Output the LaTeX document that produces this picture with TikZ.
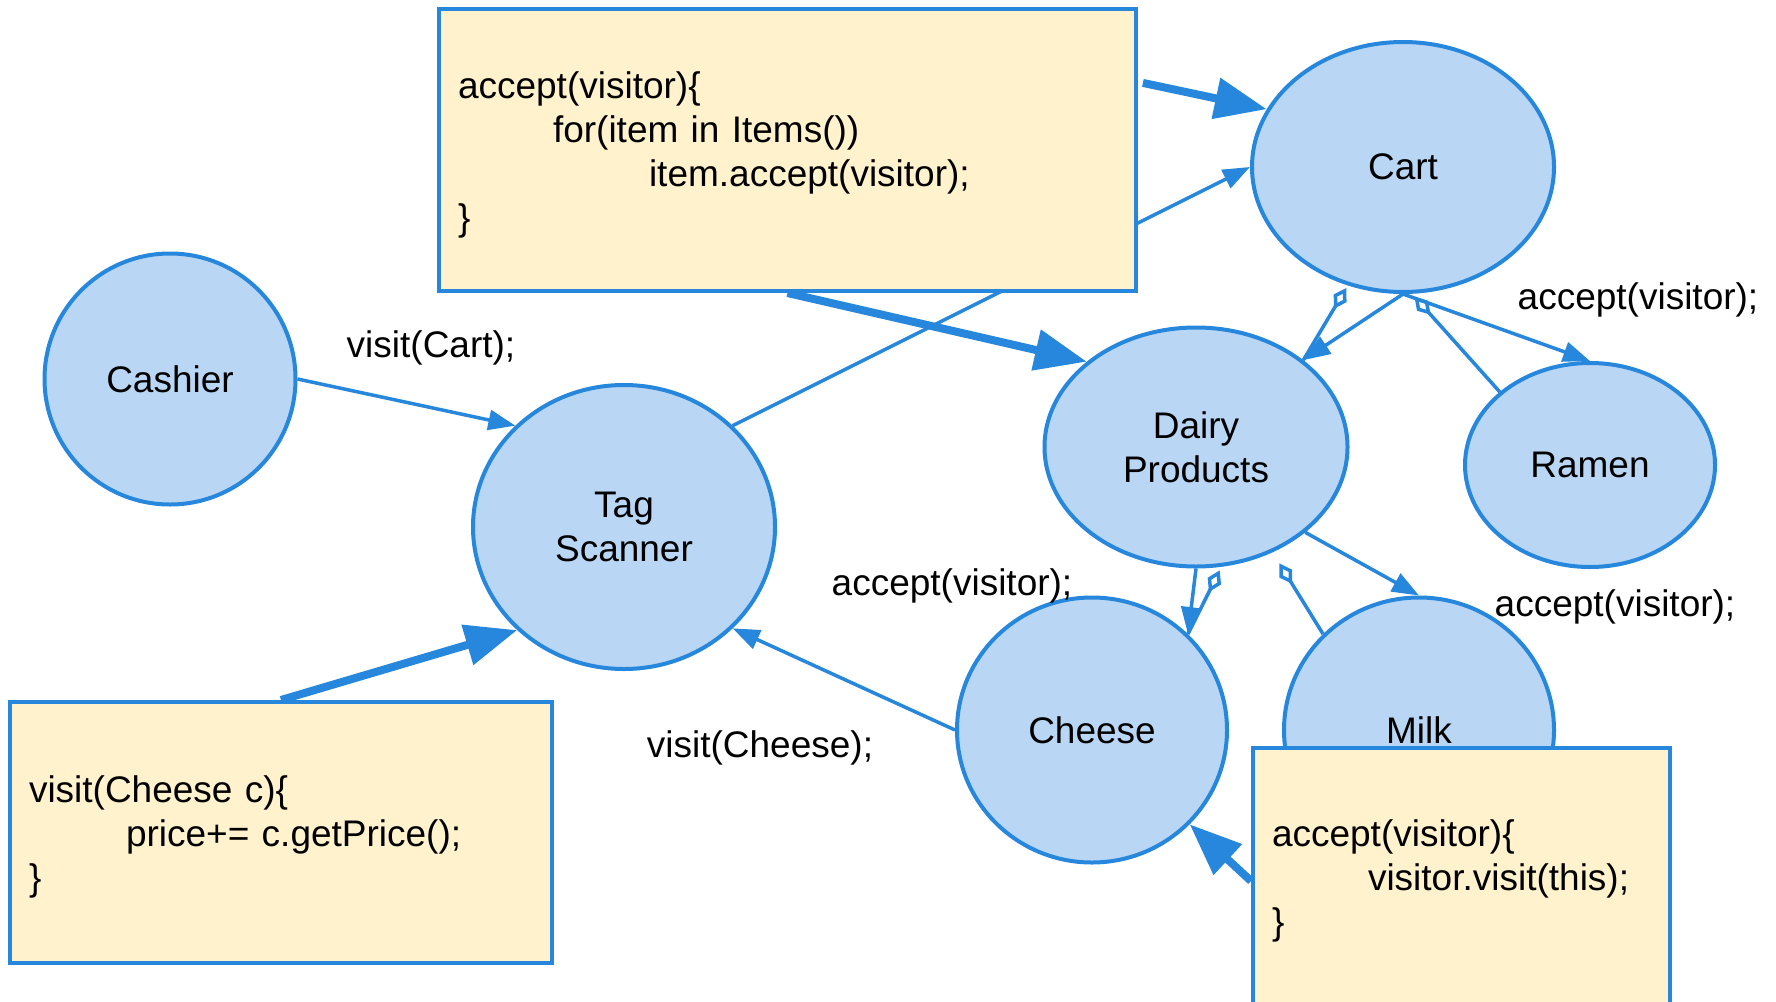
\documentclass[tikz,border=0pt]{standalone}
\usepackage{fontspec}
\setmainfont{Liberation Sans}
\usetikzlibrary{arrows.meta, shapes.geometric}
\definecolor{edgeblue}{RGB}{38,135,220}
\definecolor{objblue}{RGB}{185,215,245}
\definecolor{notefill}{RGB}{255,242,204}
\newcommand{\diagfont}{\fontsize{37}{44}\selectfont}
\newcommand{\notestrut}{\rule{0pt}{36pt}}
\tikzset{
  object/.style={
    ellipse,
    draw=edgeblue,
    fill=objblue,
    line width=4pt,
    inner sep=0pt,
    align=center,
    font=\diagfont
  },
  note/.style={
    rectangle,
    draw=edgeblue,
    fill=notefill,
    line width=4pt,
    align=left,
    inner xsep=19pt,
    inner ysep=0pt,
    font=\diagfont
  },
  call/.style={-{Triangle[length=27pt,width=20pt]}, draw=edgeblue, line width=3.5pt},
  bigcall/.style={-{Triangle[length=52pt,width=40pt]}, draw=edgeblue, line width=8pt},
  holds/.style={{Diamond[open,length=24pt,width=15pt]}-, draw=edgeblue, line width=3.5pt},
  lbl/.style={font=\diagfont, inner sep=0pt}
}

\begin{document}
\begin{tikzpicture}[x=1pt, y=-1pt]
  \useasboundingbox (0,0) rectangle (1776,1001);

  \node[object, minimum width=251pt, minimum height=251pt] (cashier) at (170,379) {Cashier};
  \node[object, minimum width=302pt, minimum height=284pt] (scanner) at (624,527) {Tag\\Scanner};
  \node[object, minimum width=302pt, minimum height=250pt] (cart) at (1403,167) {Cart};
  \node[object, minimum width=303pt, minimum height=239pt] (dairy) at (1196,447) {Dairy\\Products};
  \node[object, minimum width=250pt, minimum height=204pt] (ramen) at (1590,465) {Ramen};
  \node[object, minimum width=270pt, minimum height=265pt] (cheese) at (1092,730) {Cheese};
  \node[object, minimum width=270pt, minimum height=265pt] (milk) at (1419,730) {Milk};

  % runs behind the top note
  \draw[call] (scanner.43) -- (cart.west);

  \node[note, text width=659pt, minimum height=282pt] (loopnote) at (787.5,150)
    {\notestrut accept(visitor)\{\\
     \hspace*{95pt}for(item in Items())\\
     \hspace*{191pt}item.accept(visitor);\\
     \}};
  \node[note, text width=504pt, minimum height=261pt] (visitnote) at (281,832.5)
    {\notestrut visit(Cheese c)\{\\
     \hspace*{97pt}price+= c.getPrice();\\
     \}};
  \node[note, text width=379pt, minimum height=266pt] (acceptnote) at (1461.5,881)
    {accept(visitor)\{\\
     \hspace*{96pt}visitor.visit(this);\\
     \}};

  \draw[call] (cashier.east) -- (scanner.137);
  \draw[call] (cheese.west) -- (scanner.-43);

  \draw[holds, shorten <=3pt] (cart.245) -- (dairy.39);
  \draw[call] (cart.south) -- (dairy.39);
  \draw[holds, shorten <=4pt] (cart.274) -- (ramen.141);
  \draw[call] (cart.south) -- (ramen.north);

  \draw[holds, shorten <=4pt] (dairy.-78) -- (cheese.45);
  \draw[call] (dairy.south) -- (cheese.45);
  \draw[holds, shorten <=13pt] (dairy.-54) -- (milk.135);
  \draw[call] (dairy.-38) -- (milk.north);

  \draw[bigcall, shorten <=5pt] (loopnote.11.5) -- (cart.157);
  \draw[bigcall] (loopnote.south) -- (dairy.142);
  \draw[bigcall] (visitnote.north) -- (scanner.224);
  \draw[bigcall] (acceptnote.west) -- (cheese.-44);

  \node[lbl] (cartcall) at (431,348) {visit(Cart);};
  \node[lbl] (ramencall) at (1638,300) {accept(visitor);};
  \node[lbl] (cheesecall) at (952,586) {accept(visitor);};
  \node[lbl] (milkcall) at (1615,607) {accept(visitor);};
  \node[lbl] (visitcall) at (760,748) {visit(Cheese);};
\end{tikzpicture}
\end{document}
